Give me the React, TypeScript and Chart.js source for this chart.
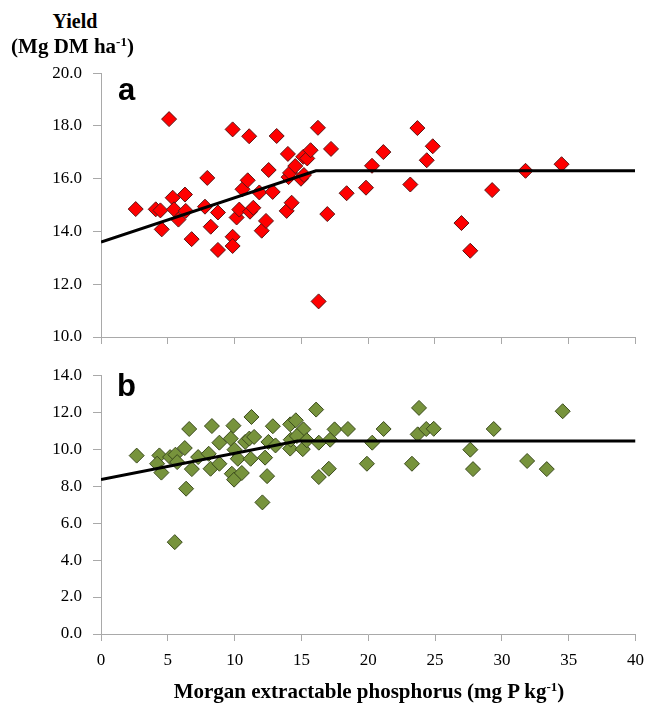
import React, { useEffect, useRef } from 'react';
import { Chart, registerables } from 'chart.js';
Chart.register(...registerables);

// x ticks (Morgan extractable P, mg P kg-1)
const xTicks = [0, 5, 10, 15, 20, 25, 30, 35, 40];
const topYTicks = [10, 12, 14, 16, 18, 20];
const botYTicks = [0, 2, 4, 6, 8, 10, 12, 14];

// panel a: observed yield points
const topX = [2.6, 4.1, 4.45, 4.55, 5.1, 5.37, 5.47, 5.8, 6.29, 6.35, 6.79, 7.96, 7.79, 8.22, 8.76, 8.76, 9.86, 9.86, 9.86, 10.16, 10.36, 10.6, 10.99, 11.1, 11.16, 11.41, 11.86, 12.04, 12.36, 12.56, 12.86, 13.16, 14.0, 13.91, 14.28, 14.05, 14.16, 14.55, 14.98, 15.2, 15.15, 15.45, 15.7, 16.25, 16.3, 17.23, 16.95, 18.4, 19.85, 20.3, 21.15, 23.7, 24.85, 24.4, 23.17, 27.0, 27.66, 29.3, 31.8, 34.5];
const topY = [14.85, 14.84, 14.8, 14.08, 18.26, 15.28, 14.84, 14.45, 15.4, 14.78, 13.71, 16.03, 14.94, 14.18, 14.72, 13.3, 17.87, 13.8, 13.45, 14.53, 14.83, 15.6, 15.94, 17.61, 14.75, 14.9, 15.48, 14.03, 14.4, 16.33, 15.5, 17.62, 16.94, 14.78, 15.09, 16.06, 16.22, 16.48, 16.0, 16.14, 16.83, 16.77, 17.08, 17.93, 11.35, 17.13, 14.66, 15.45, 15.66, 16.49, 17.01, 17.92, 17.23, 16.7, 15.78, 14.32, 13.27, 15.57, 16.3, 16.55];

// panel b: observed yield points
const botX = [2.67, 4.37, 4.2, 4.52, 5.17, 5.57, 5.7, 5.52, 6.27, 6.37, 6.6, 6.8, 7.27, 8.06, 8.3, 8.2, 8.86, 8.86, 9.71, 9.91, 9.79, 9.96, 9.99, 10.24, 10.54, 10.79, 11.1, 11.46, 11.26, 11.2, 12.28, 12.43, 12.08, 12.53, 12.86, 13.06, 14.16, 14.58, 15.15, 14.16, 14.2, 14.66, 15.1, 15.4, 16.1, 16.3, 16.3, 17.05, 17.15, 17.48, 18.48, 19.9, 20.3, 21.15, 23.27, 23.8, 23.7, 24.34, 24.9, 27.64, 27.84, 29.39, 31.89, 33.36, 34.55];
const botY = [9.65, 9.66, 9.21, 8.73, 9.57, 9.7, 9.3, 4.97, 10.06, 7.86, 11.09, 8.92, 9.57, 9.75, 11.25, 8.94, 10.35, 9.21, 10.57, 11.27, 8.67, 8.35, 9.97, 9.48, 8.71, 10.39, 10.57, 10.66, 11.74, 9.48, 9.54, 8.54, 7.12, 10.39, 11.24, 10.2, 11.34, 11.56, 11.07, 10.03, 10.51, 10.71, 10.0, 10.48, 12.14, 10.35, 8.49, 8.94, 10.51, 11.07, 11.09, 9.21, 10.35, 11.09, 9.21, 12.23, 10.8, 11.09, 11.1, 9.97, 8.92, 11.09, 9.36, 8.92, 12.05];

// fitted linear-plateau lines
const topLineX = [0, 16.1, 40];
const topLineY = [13.6, 16.3, 16.3];
const botLineX = [0, 14.7, 40];
const botLineY = [8.35, 10.44, 10.44];

const AXIS = '#a9a9a9';
const SERIF = '"Liberation Serif", "Times New Roman", serif';

function pts(xs: number[], ys: number[]) {
  return xs.map((x, i) => ({ x, y: ys[i] }));
}

function makeConfig(opts: {
  xs: number[]; ys: number[]; lx: number[]; ly: number[];
  fill: string; stroke: string;
  yMin: number; yMax: number; yTicks: number[];
  showXLabels: boolean; xHeight: number;
  padding: { left: number; right: number; top: number; bottom: number };
}): any {
  return {
    type: 'scatter',
    data: {
      datasets: [
        {
          data: pts(opts.lx, opts.ly),
          showLine: true,
          borderColor: '#000000',
          borderWidth: 3,
          pointRadius: 0,
          fill: false,
          order: 0,
        },
        {
          data: pts(opts.xs, opts.ys),
          pointStyle: 'rectRot',
          pointRadius: 7.5,
          pointBackgroundColor: opts.fill,
          pointBorderColor: opts.stroke,
          pointBorderWidth: 1,
          showLine: false,
          order: 1,
        },
      ],
    },
    options: {
      animation: false,
      responsive: false,
      devicePixelRatio: 1,
      layout: { padding: opts.padding },
      plugins: { legend: { display: false }, tooltip: { enabled: false }, title: { display: false } },
      scales: {
        x: {
          type: 'linear',
          min: 0,
          max: 40,
          afterBuildTicks: (s: any) => { s.ticks = xTicks.map((v) => ({ value: v })); },
          afterFit: (s: any) => { s.height = opts.xHeight; },
          ticks: {
            display: opts.showXLabels,
            color: '#000',
            font: { family: SERIF, size: 17 },
            padding: 9,
            maxRotation: 0,
            autoSkip: false,
            callback: (v: any) => String(v),
          },
          grid: { drawOnChartArea: false, drawTicks: true, tickLength: 7, color: AXIS, lineWidth: 1 },
          border: { display: true, color: AXIS, width: 1 },
        },
        y: {
          type: 'linear',
          min: opts.yMin,
          max: opts.yMax,
          afterBuildTicks: (s: any) => { s.ticks = opts.yTicks.map((v) => ({ value: v })); },
          afterFit: (s: any) => { s.width = 101; },
          ticks: {
            color: '#000',
            font: { family: SERIF, size: 17 },
            padding: 11,
            autoSkip: false,
            callback: (v: any) => Number(v).toFixed(1),
          },
          grid: { drawOnChartArea: false, drawTicks: true, tickLength: 8, color: AXIS, lineWidth: 1 },
          border: { display: true, color: AXIS, width: 1 },
        },
      },
    },
  };
}

const sup: React.CSSProperties = { fontSize: '0.62em', position: 'relative', top: '-0.55em' };

export default function App() {
  const topRef = useRef<HTMLCanvasElement | null>(null);
  const botRef = useRef<HTMLCanvasElement | null>(null);

  useEffect(() => {
    const c1 = new Chart(topRef.current as HTMLCanvasElement, makeConfig({
      xs: topX, ys: topY, lx: topLineX, ly: topLineY,
      fill: '#ff0000', stroke: '#5a1414',
      yMin: 10, yMax: 20, yTicks: topYTicks,
      showXLabels: false, xHeight: 10,
      padding: { left: 0, right: 11, top: 0, bottom: 13 },
    }));
    const c2 = new Chart(botRef.current as HTMLCanvasElement, makeConfig({
      xs: botX, ys: botY, lx: botLineX, ly: botLineY,
      fill: '#77933c', stroke: '#3a4a1c',
      yMin: 0, yMax: 14, yTicks: botYTicks,
      showXLabels: true, xHeight: 46,
      padding: { left: 0, right: 11, top: 0, bottom: 0 },
    }));
    return () => { c1.destroy(); c2.destroy(); };
  }, []);

  return (
    <div style={{ position: 'absolute', left: 0, top: 0, width: 646, height: 707, background: '#fff', overflow: 'hidden' }}>
      <canvas ref={topRef} width={646} height={308} style={{ position: 'absolute', left: 0, top: 52, width: 646, height: 308 }} />
      <canvas ref={botRef} width={653} height={326} style={{ position: 'absolute', left: 0, top: 354, width: 653, height: 326 }} />
      <div style={{ position: 'absolute', left: 0, top: 11, width: 150, textAlign: 'center', font: `bold 20px ${SERIF}`, lineHeight: '20px', whiteSpace: 'nowrap' }}>Yield</div>
      <div style={{ position: 'absolute', left: 0, top: 36, width: 145, textAlign: 'center', font: `bold 21px ${SERIF}`, lineHeight: '21px', whiteSpace: 'nowrap' }}>
        (Mg DM ha<span style={sup}>-1</span>)
      </div>
      <div style={{ position: 'absolute', left: 118, top: 74, font: 'bold 31px "Liberation Sans", Arial, sans-serif', lineHeight: '31px' }}>a</div>
      <div style={{ position: 'absolute', left: 117, top: 370, font: 'bold 31px "Liberation Sans", Arial, sans-serif', lineHeight: '31px' }}>b</div>
      <div style={{ position: 'absolute', left: 69, top: 681, width: 600, textAlign: 'center', font: `bold 21px ${SERIF}`, lineHeight: '21px', whiteSpace: 'nowrap' }}>
        Morgan extractable phosphorus (mg P kg<span style={sup}>-1</span>)
      </div>
    </div>
  );
}
